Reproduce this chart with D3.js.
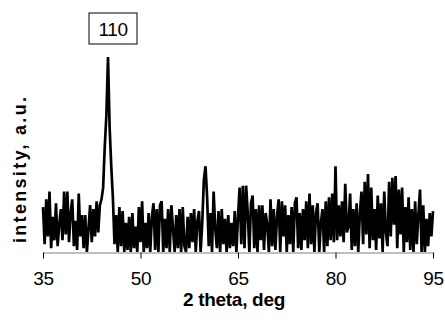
<!DOCTYPE html>
<html>
<head>
<meta charset="utf-8">
<script src="https://cdn.jsdelivr.net/npm/d3@7"></script>
<style>
  body { margin: 0; background: #fff; }
  svg { display: block; font-family: "Liberation Sans", Arial, sans-serif; }
</style>
</head>
<body>
<svg id="chart" width="445" height="322"></svg>
<script>
// 2 theta from 35 to 95 deg, step 0.25
const startAngle = 35;
const stepAngle = 0.25;
const intensity = [
  23, 4, 27, 8,    31, 2, 18, 6,    25, 3, 14, 22,   6, 31, 9, 31,
  5, 20, 27, 3,    16, 1, 30, 8,    19, 2, 19, 0,    12, 24, 5, 22,
  8, 26, 10, 24,   27, 33, 54, 70,  100, 64, 44, 28, 4, 19, 0, 23,
  3, 21, 0, 15,    1, 18, 0, 20,    2, 13, 0, 23,    5, 26, 0, 15,
  2, 20, 0, 18,    25, 1, 22, 0,    24, 26, 0, 17,   2, 22, 0, 24,
  12, 0, 19, 2,    22, 0, 23, 3,    0, 18, 2, 20,    5, 22, 0, 16,
  21, 0, 15, 37,   44, 28, 3, 20,   0, 31, 12, 2,    21, 0, 22, 4,
  17, 0, 19, 2,    15, 3, 21, 0,    18, 33, 4, 34,   2, 34, 20, 0,
  25, 29, 2, 22,   0, 24, 6, 24,    1, 20, 14, 0,    27, 3, 22, 1,
  18, 27, 0, 26,   8, 24, 0, 19,    4, 23, 0, 25,    28, 2, 20, 1,
  22, 6, 26, 2,    30, 4, 24, 0,    20, 25, 0, 15,   22, 0, 26, 3,
  28, 6, 30, 5,    44, 6, 24, 8,    26, 5, 35, 10,   13, 30, 1, 22,
  3, 25, 0, 20,    31, 4, 36, 9,    40, 2, 33, 6,    22, 1, 29, 7,
  25, 0, 31, 10,   3, 36, 8, 38,    14, 39, 2, 32,   9, 33, 0, 23,
  5, 28, 1, 22,    0, 26, 4, 19,    32, 0, 24, 0,    17, 3, 20, 8,
  21
];
const xTicks = [35, 50, 65, 80, 95];
const peakLabel = { angle: 45, text: '110' };
const xTitle = '2 theta, deg';
const yTitle = 'intensity, a.u.';

const data = intensity.map((v, i) => ({ angle: startAngle + i * stepAngle, value: v }));

const svg = d3.select('#chart');
const margin = { top: 57, right: 12, bottom: 70, left: 43 };
const width = +svg.attr('width');
const height = +svg.attr('height');

const x = d3.scaleLinear()
  .domain([35, 95])
  .range([margin.left, width - margin.right]);

const y = d3.scaleLinear()
  .domain([0, 100])
  .range([height - margin.bottom, margin.top]);

// x axis
svg.append('g')
  .attr('transform', `translate(0,${height - margin.bottom + 0.5})`)
  .call(d3.axisBottom(x).tickValues(xTicks).tickSize(6).tickSizeOuter(0).tickPadding(13))
  .call(g => g.select('.domain').attr('stroke', '#808080'))
  .call(g => g.selectAll('.tick line').attr('stroke', '#000'))
  .call(g => g.selectAll('.tick text')
    .attr('fill', '#000')
    .attr('font-size', 19)
    .attr('letter-spacing', -0.4)
    .attr('font-family', '"Liberation Sans", Arial, sans-serif'));

// the pattern
svg.append('path')
  .datum(data)
  .attr('fill', 'none')
  .attr('stroke', '#000')
  .attr('stroke-width', 2.7)
  .attr('stroke-linejoin', 'miter')
  .attr('d', d3.line().x(d => x(d.angle)).y(d => y(d.value)));

// peak label box
const lx = x(peakLabel.angle) + 5;
const box = svg.append('g').attr('transform', `translate(${lx},29)`);
box.append('rect')
  .attr('x', -24).attr('y', -16)
  .attr('width', 48).attr('height', 31)
  .attr('fill', '#fff')
  .attr('stroke', '#000')
  .attr('stroke-width', 1);
box.append('text')
  .attr('text-anchor', 'middle')
  .attr('y', 7)
  .attr('font-size', 19)
  .attr('letter-spacing', -0.4)
  .text(peakLabel.text);

// axis titles
svg.append('text')
  .attr('x', 234)
  .attr('y', 306)
  .attr('text-anchor', 'middle')
  .attr('font-size', 19)
  .attr('font-weight', 'bold')
  .attr('letter-spacing', -0.3)
  .text(xTitle);

svg.append('text')
  .attr('transform', `translate(26,170)rotate(-90)`)
  .attr('text-anchor', 'middle')
  .attr('font-size', 18)
  .attr('font-weight', 'bold')
  .attr('textLength', 146)
  .attr('lengthAdjust', 'spacing')
  .text(yTitle);
</script>
</body>
</html>
